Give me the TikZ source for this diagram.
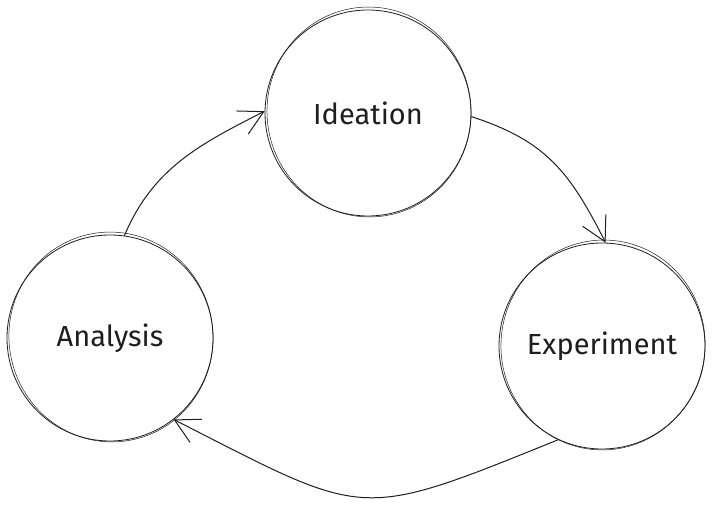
\documentclass[tikz,border=0pt]{standalone}
\usepackage{fontspec}
\setmainfont{Fira Sans}
\usepackage{tikz}
\usetikzlibrary{arrows.meta}
\definecolor{ink}{HTML}{1E1E1E}
\tikzset{>={Straight Barb[length=24pt,width=26pt]}}

\begin{document}
\begin{tikzpicture}[x=1pt,y=1pt,line width=0.8pt,color=ink]
		\useasboundingbox (0,0) rectangle (714,510);
		\begin{scope}[every node/.append style={circle,draw,minimum size=206pt,inner sep=0pt,font=\fontsize{29}{33}\selectfont}]
			\node (0) at (368, 397) {Ideation};
			\node (1) at (602, 164) {Experiment};
			\node (2) at (110, 172) {Analysis};
		\end{scope}

		% second pencil stroke round each circle
		\foreach \n/\r in {0/6,1/-8,2/10}
			\draw[line width=0.5pt] ([shift={(1,1)}]\n.center) ellipse [x radius=102, y radius=105, rotate=\r];

		\draw[->,line width=1pt] (2.82) to[out=67,in=207] (0.179);
		\draw[->,line width=1pt] (0.-2) to[out=-18,in=117,looseness=1.1] (1.88);
		\draw[->,line width=1pt] (1.245) to[out=202,in=333,looseness=1.45] (2.308);
	\end{tikzpicture}
\end{document}
